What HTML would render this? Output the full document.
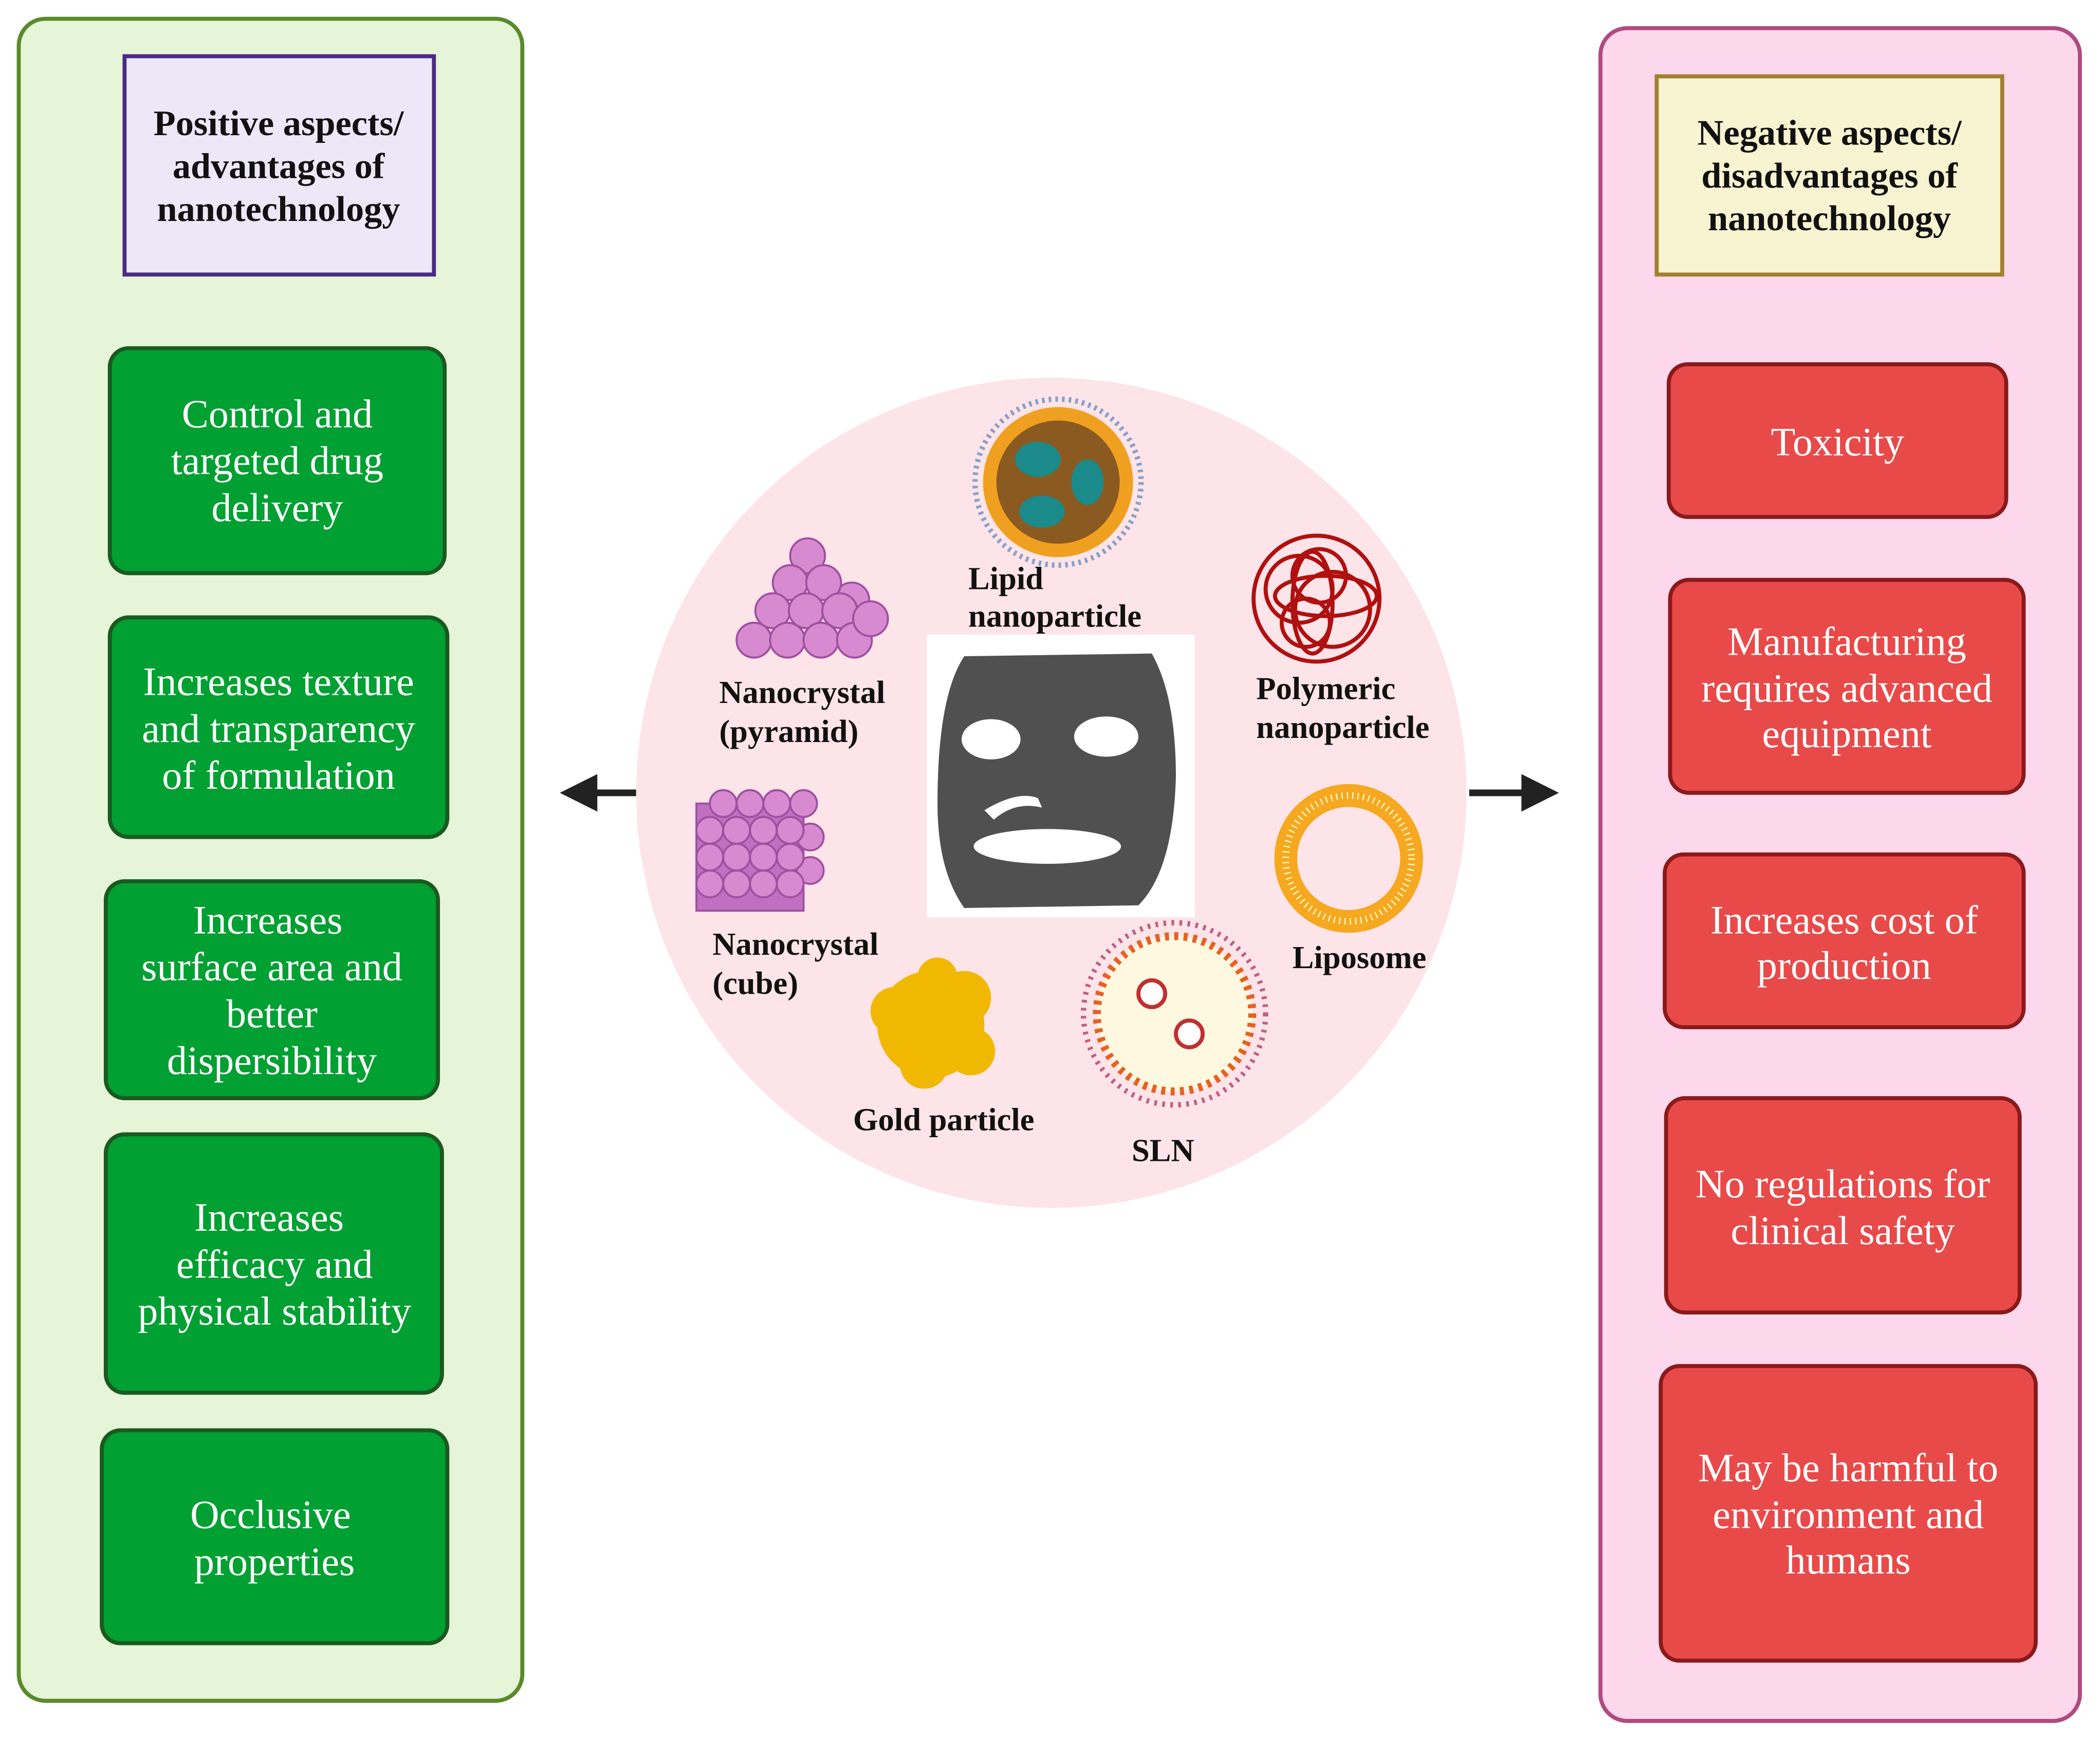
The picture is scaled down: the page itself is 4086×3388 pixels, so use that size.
<!DOCTYPE html>
<html><head><meta charset="utf-8"><style>html,body{margin:0;padding:0;background:#fff}svg{display:block}</style></head>
<body>
<svg xmlns="http://www.w3.org/2000/svg" width="4086" height="3388" viewBox="0 0 1568 1300" preserveAspectRatio="none" font-family="Liberation Serif, serif">
<!-- Left panel -->
<rect x="14" y="14" width="376" height="1256" rx="20" fill="#e6f4d8" stroke="#5a8a2a" stroke-width="3"/>
<rect x="93" y="42" width="231" height="163" fill="#ece8f8" stroke="#4b2a86" stroke-width="3"/>
<g font-weight="bold" font-size="27" text-anchor="middle" fill="#111">
<text x="208" y="101">Positive aspects/</text><text x="208" y="133">advantages of</text><text x="208" y="165">nanotechnology</text>
</g>
<g fill="#00a032" stroke="#1a5a20" stroke-width="3">
<rect x="82" y="260" width="250" height="168" rx="14"/>
<rect x="82" y="461" width="252" height="164" rx="14"/>
<rect x="79" y="658" width="248" height="162" rx="14"/>
<rect x="79" y="847" width="251" height="193" rx="14"/>
<rect x="76" y="1068" width="258" height="159" rx="14"/>
</g>
<g font-size="30" text-anchor="middle" fill="#fff">
<text x="207" y="319">Control and</text><text x="207" y="354">targeted drug</text><text x="207" y="389">delivery</text>
<text x="208" y="519">Increases texture</text><text x="208" y="554">and transparency</text><text x="208" y="589">of formulation</text>
<text x="200" y="697">Increases</text><text x="203" y="732">surface area and</text><text x="203" y="767">better</text><text x="203" y="802">dispersibility</text>
<text x="201" y="919">Increases</text><text x="205" y="954">efficacy and</text><text x="205" y="989">physical stability</text>
<text x="202" y="1141">Occlusive</text><text x="205" y="1176">properties</text>
</g>
<!-- Right panel -->
<rect x="1195" y="21" width="358" height="1264" rx="20" fill="#fdd8ec" stroke="#b04a80" stroke-width="3"/>
<rect x="1237" y="57" width="258" height="148" fill="#f8f3d0" stroke="#a08030" stroke-width="3"/>
<g font-weight="bold" font-size="27" text-anchor="middle" fill="#111">
<text x="1366" y="108">Negative aspects/</text><text x="1366" y="140">disadvantages of</text><text x="1366" y="172">nanotechnology</text>
</g>
<g fill="#e84a4a" stroke="#8a1a1a" stroke-width="3">
<rect x="1246" y="272" width="252" height="114" rx="14"/>
<rect x="1247" y="433" width="264" height="159" rx="14"/>
<rect x="1243" y="638" width="268" height="129" rx="14"/>
<rect x="1244" y="820" width="264" height="160" rx="14"/>
<rect x="1240" y="1020" width="280" height="220" rx="14"/>
</g>
<g font-size="30" text-anchor="middle" fill="#fff">
<text x="1372" y="340">Toxicity</text>
<text x="1379" y="489">Manufacturing</text><text x="1379" y="524">requires advanced</text><text x="1379" y="558">equipment</text>
<text x="1377" y="697">Increases cost of</text><text x="1377" y="731">production</text>
<text x="1376" y="894">No regulations for</text><text x="1376" y="929">clinical safety</text>
<text x="1380" y="1106">May be harmful to</text><text x="1380" y="1141">environment and</text><text x="1380" y="1175">humans</text>
</g>
<!-- arrows -->
<line x1="475" y1="592" x2="440" y2="592" stroke="#222" stroke-width="5"/>
<polygon points="418,592 446,578 446,606" fill="#222"/>
<line x1="1097" y1="592" x2="1140" y2="592" stroke="#222" stroke-width="5"/>
<polygon points="1164,592 1136,578 1136,606" fill="#222"/>
<!-- circle -->
<circle cx="785" cy="592" r="310" fill="#fde4e8"/>
<rect x="692" y="474" width="200" height="211" fill="#fff"/>
<path d="M720,490 L860,488 Q878,520 878,580 Q876,650 850,676 L720,678 Q700,650 700,600 Q700,520 720,490 Z" fill="#505050"/>
<ellipse cx="740" cy="552" rx="22" ry="15" fill="#fff"/>
<ellipse cx="826" cy="550" rx="24" ry="15" fill="#fff"/>
<path d="M735,605 Q760,590 775,596 L778,603 Q758,598 742,612 Z" fill="#fff"/>
<ellipse cx="782" cy="632" rx="55" ry="13" fill="#fff"/>
<!-- lipid np -->
<circle cx="790" cy="360" r="62" fill="none" stroke="#8aa0c8" stroke-width="4" stroke-dasharray="2 3"/>
<circle cx="790" cy="360" r="56" fill="#f0a020"/>
<circle cx="790" cy="360" r="46" fill="#8a5a20"/>
<ellipse cx="775" cy="343" rx="17" ry="13" fill="#1a8a8a"/>
<ellipse cx="812" cy="360" rx="12" ry="17" fill="#1a8a8a"/>
<ellipse cx="778" cy="382" rx="17" ry="12" fill="#1a8a8a"/>
<!-- polymeric -->
<g fill="none" stroke="#b01010" stroke-width="3">
<circle cx="983" cy="447" r="47"/><circle cx="970" cy="440" r="25"/><circle cx="995" cy="455" r="28"/><circle cx="985" cy="430" r="20"/><circle cx="975" cy="465" r="18"/><ellipse cx="990" cy="445" rx="38" ry="15"/><ellipse cx="980" cy="450" rx="15" ry="38"/>
</g>
<!-- liposome -->
<circle cx="1007" cy="641" r="47" fill="none" stroke="#f5a820" stroke-width="17"/>
<circle cx="1007" cy="641" r="47" fill="none" stroke="#fff5c0" stroke-width="5" stroke-dasharray="1 3"/>
<!-- SLN -->
<circle cx="877" cy="757" r="68" fill="none" stroke="#c06080" stroke-width="4" stroke-dasharray="2 4"/>
<circle cx="877" cy="757" r="58" fill="#fff8e0" stroke="#e86020" stroke-width="6" stroke-dasharray="3 4"/>
<circle cx="860" cy="742" r="10" fill="#fff" stroke="#c03030" stroke-width="3"/>
<circle cx="888" cy="772" r="10" fill="#fff" stroke="#c03030" stroke-width="3"/>
<!-- gold -->
<g fill="#f0b800">
<circle cx="695" cy="765" r="40"/><circle cx="668" cy="755" r="18"/><circle cx="720" cy="745" r="20"/><circle cx="700" cy="730" r="15"/><circle cx="690" cy="795" r="18"/><circle cx="725" cy="785" r="18"/>
</g>
<!-- pyramid -->
<g fill="#d88ad0" stroke="#a050a0" stroke-width="1.5">
<circle cx="636" cy="448" r="13"/><circle cx="603" cy="415" r="13"/><circle cx="590" cy="435" r="13"/><circle cx="615" cy="435" r="13"/>
<circle cx="577" cy="456" r="13"/><circle cx="602" cy="456" r="13"/><circle cx="627" cy="456" r="13"/>
<circle cx="563" cy="478" r="13"/><circle cx="588" cy="478" r="13"/><circle cx="613" cy="478" r="13"/><circle cx="638" cy="478" r="13"/>
<circle cx="650" cy="462" r="13"/>
</g>
<!-- cube -->
<g fill="#d88ad0" stroke="#a050a0" stroke-width="1.5">
<rect x="520" y="600" width="80" height="80" fill="#c070c0"/>
<circle cx="600" cy="600" r="10"/><circle cx="605" cy="625" r="10"/><circle cx="605" cy="650" r="10"/>
<circle cx="530" cy="620" r="10"/><circle cx="550" cy="620" r="10"/><circle cx="570" cy="620" r="10"/><circle cx="590" cy="620" r="10"/>
<circle cx="530" cy="640" r="10"/><circle cx="550" cy="640" r="10"/><circle cx="570" cy="640" r="10"/><circle cx="590" cy="640" r="10"/>
<circle cx="530" cy="660" r="10"/><circle cx="550" cy="660" r="10"/><circle cx="570" cy="660" r="10"/><circle cx="590" cy="660" r="10"/>
<circle cx="540" cy="600" r="10"/><circle cx="560" cy="600" r="10"/><circle cx="580" cy="600" r="10"/>
</g>
<!-- labels -->
<g font-weight="bold" font-size="24" fill="#111">
<text x="723" y="440">Lipid</text><text x="723" y="468">nanoparticle</text>
<text x="938" y="522">Polymeric</text><text x="938" y="551">nanoparticle</text>
<text x="965" y="723">Liposome</text>
<text x="845" y="867">SLN</text>
<text x="637" y="844">Gold particle</text>
<text x="532" y="713">Nanocrystal</text><text x="532" y="742">(cube)</text>
<text x="537" y="525">Nanocrystal</text><text x="537" y="554">(pyramid)</text>
</g>
</svg>
</body></html>
